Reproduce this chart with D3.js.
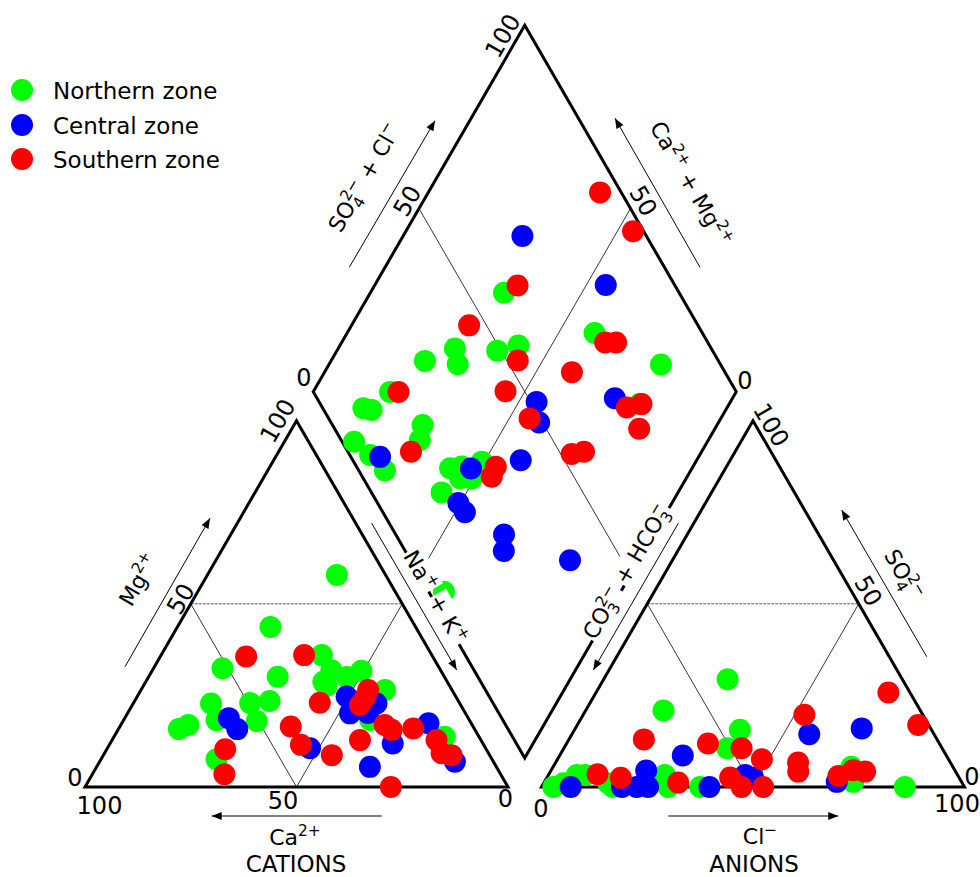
<!DOCTYPE html>
<html>
<head>
<meta charset="utf-8">
<script src="https://cdn.jsdelivr.net/npm/d3@7"></script>
<style>
  body { margin: 0; background: #fff; }
  svg { display: block; }
  text { font-family: "DejaVu Sans", Verdana, sans-serif; fill: #000; }
</style>
</head>
<body>
<svg id="chart" width="980" height="877"></svg>
<script>
// Piper diagram of groundwater samples, three zones.
const zoneNames = ["Northern zone", "Central zone", "Southern zone"];
const zoneColors = ["#00ff00", "#0000ff", "#ff0000"];

// Cation percentages (meq %): [Ca, Mg, Na+K]
const northCations = [[11.5,57.9,30.6],[34.3,43.7,22.0],[51.3,32.4,16.3],[39.4,30.1,30.5],[58.8,22.8,18.4],[49.5,22.9,27.6],[44.6,23.5,31.9],[50.4,18.0,31.6],[59.8,18.2,22.0],[69.9,15.8,14.3],[67.1,16.9,16.0],[65.1,7.6,27.3],[26.0,36.0,38.0],[25.8,31.9,42.3],[29.1,27.6,43.3],[23.1,30.0,46.9],[18.8,31.7,49.5],[15.8,26.5,57.7],[23.4,18.3,58.3],[8.1,13.7,78.2],[29.3,28.7,42.0]];
const centralCations = [[56.6,18.8,24.6],[56.1,15.8,28.1],[41.5,10.6,47.9],[25.8,24.7,49.5],[19.7,22.8,57.5],[27.3,20.1,52.6],[23.0,20.2,56.8],[10.1,17.4,72.5],[21.3,11.9,66.8],[29.9,5.5,64.6],[9.1,6.9,84.0]];
const southCations = [[44.1,35.6,20.3],[30.2,36.0,33.8],[33.0,23.0,44.0],[43.1,16.5,40.4],[43.2,11.5,45.3],[61.7,10.3,28.0],[65.3,3.5,31.2],[19.8,26.5,53.7],[23.8,22.4,53.8],[21.5,24.5,54.0],[20.7,16.9,62.4],[19.7,15.6,64.7],[14.4,16.0,69.6],[28.6,12.8,58.6],[37.3,8.7,54.0],[10.5,12.8,76.7],[11.1,9.2,79.7],[9.0,8.7,82.3],[27.7,0.0,72.3]];

// Anion percentages (meq %): [CO3+HCO3, SO4, Cl]
const northAnions = [[41.3,29.4,29.3],[60.7,20.9,18.4],[45.3,15.6,39.1],[50.8,10.6,38.6],[97.2,0,2.8],[94.3,1.0,4.7],[90.0,3.3,6.7],[88.0,3.3,8.7],[83.7,1.0,15.3],[83.1,0,16.9],[69.2,3.3,27.5],[70.0,0,30.0],[62.5,0,37.5],[24.0,5.5,70.5],[25.6,1.4,73.0],[14.1,0,85.9]];
const centralAnions = [[62.3,8.6,29.1],[93.1,0,6.9],[73.0,4.5,22.5],[81.0,0,19.0],[77.5,0,22.5],[74.8,0,25.2],[60.3,0,39.7],[50.2,3.3,46.5],[48.7,2.5,48.8],[29.5,14.4,56.1],[16.3,16.0,67.7],[29.5,1.4,69.1]];
const southAnions = [[69.3,13.0,17.7],[54.7,11.9,33.4],[47.4,10.6,42.0],[85.0,3.5,11.5],[80.0,2.5,17.5],[67.1,1.2,31.7],[54.1,2.6,43.3],[52.7,0,47.3],[47.6,0,52.4],[44.1,7.6,48.3],[28.0,19.7,52.3],[36.0,6.7,57.3],[37.2,4.2,58.6],[5.1,25.8,69.1],[2.5,16.9,80.6],[28.3,3.0,68.7],[24.0,4.6,71.4],[21.4,4.2,74.4]];

// Diamond field: [Ca+Mg, SO4+Cl]
const northDiamond = [[68.4,58.6],[72.4,39.4],[69.6,37.9],[77.8,30.6],[62.1,49.1],[57.8,54.8],[41.5,74.5],[21.5,85.9],[81.8,18.1],[85.9,9.6],[83.7,11.3],[69.6,21.3],[68.2,18.6],[83.5,2.8],[77.9,4.8],[72.3,6.2],[57.2,21.9],[54.7,24.9],[50.6,30.3],[50.7,25.6],[55.9,16.6],[21.1,75.6],[41.8,3.6],[53.5,22.9]];
const centralDiamond = [[71.8,70.7],[45.4,83.7],[45.8,51.4],[42.4,49.2],[27.8,70.4],[75.3,6.9],[52.2,26.8],[41.6,39.7],[50.5,19.1],[47.7,19.4],[35.4,25.6],[33.2,23.3],[16.3,37.7]];
const southDiamond = [[59.4,95.0],[46.3,97.5],[66.2,62.8],[72.2,45.9],[55.9,52.6],[37.7,75.7],[35.1,78.3],[41.5,63.8],[54.6,45.5],[79.8,20.1],[45.2,47.5],[23.7,72.0],[20.7,75.9],[17.9,72.0],[30.4,52.6],[27.8,55.8],[68.7,14.9],[46.6,32.9],[46.2,30.6]];

const cationSets = [northCations, centralCations, southCations];
const anionSets = [northAnions, centralAnions, southAnions];
const diamondSets = [northDiamond, centralDiamond, southDiamond];

// ---- geometry ----
const side = 423;
const height = side * Math.sqrt(3) / 2;
const baseY = 787;
const catX0 = 85;
const gap = 33.5;
const anX0 = catX0 + side + gap;
const B = [catX0 + side + gap / 2, baseY - gap * Math.sqrt(3) / 2];

const along = d3.scaleLinear().domain([0, 100]).range([0, side]);
const up = d3.scaleLinear().domain([0, 100]).range([0, height]);

function norm(v) { const s = d3.sum(v); return v.map(d => d / s * 100); }
function cationXY(v) { const [ca, mg, nak] = norm(v); return [catX0 + along(nak + mg / 2), baseY - up(mg)]; }
function anionXY(v) { const [hco3, so4, cl] = norm(v); return [anX0 + along(cl + so4 / 2), baseY - up(so4)]; }
function diamondXY(v) { const [camg, so4cl] = v; return [B[0] + (along(so4cl) - along(camg)) / 2, B[1] - up(camg + so4cl)]; }

const svg = d3.select("#chart");
svg.append("rect").attr("width", 980).attr("height", 877).attr("fill", "#fff");
const frame = svg.append("g");
const pts = svg.append("g");
const labels = svg.append("g");

const cL = [catX0, baseY], cR = [catX0 + side, baseY], cT = [catX0 + side / 2, baseY - height];
const aL = [anX0, baseY], aR = [anX0 + side, baseY], aT = [anX0 + side / 2, baseY - height];
const dB = B, dL = [B[0] - side / 2, B[1] - height], dR = [B[0] + side / 2, B[1] - height], dT = [B[0], B[1] - 2 * height];
const mid = (p, q) => [(p[0] + q[0]) / 2, (p[1] + q[1]) / 2];

function seg(p, q, w, dash, color) {
  frame.append("line").attr("x1", p[0]).attr("y1", p[1]).attr("x2", q[0]).attr("y2", q[1])
    .attr("stroke", color || "#000").attr("stroke-width", w).attr("stroke-dasharray", dash || null);
}

// inner guide lines
[[cL, cR, cT], [aL, aR, aT]].forEach(([l, r, t]) => {
  const ml = mid(l, t), mr = mid(r, t), mb = mid(l, r);
  seg(ml, mr, 1, "3,1", "#555");
  seg(ml, mb, 0.8);
  seg(mb, mr, 0.8);
});
seg(mid(dL, dT), mid(dB, dR), 0.8);
seg(mid(dR, dT), mid(dB, dL), 0.8);

// outlines
const poly = d3.line();
[[cL, cR, cT], [aL, aR, aT], [dB, dL, dT, dR]].forEach(v => {
  frame.append("path").attr("d", poly(v) + "Z").attr("fill", "none")
    .attr("stroke", "#000").attr("stroke-width", 3).attr("stroke-linejoin", "miter");
});

// samples
const r = 11;
zoneNames.forEach((z, i) => {
  const g = pts.append("g").attr("fill", zoneColors[i]);
  const all = cationSets[i].map(cationXY)
    .concat(anionSets[i].map(anionXY))
    .concat(diamondSets[i].map(diamondXY));
  g.selectAll("circle").data(all).join("circle")
    .attr("cx", d => d[0]).attr("cy", d => d[1]).attr("r", r);
});

// ---- text helpers ----
function rich(parent, parts, size) {
  const t = parent.append("text").attr("font-size", size);
  let shift = 0, prev = "n", subW = 0;
  parts.forEach(p => {
    let kind = "n", s = p;
    if (Array.isArray(p)) { kind = p[0]; s = p[1]; }
    const target = kind === "sup" ? -0.42 * size : kind === "sub" ? 0.24 * size : 0;
    const ts = t.append("tspan").text(s).attr("dy", target - shift);
    shift = target;
    if (kind !== "n") ts.attr("font-size", size * 0.7);
    if (kind === "sup" && prev === "sub") ts.attr("dx", -subW);
    if (kind === "sub") subW = ts.node().getComputedTextLength();
    prev = kind;
  });
  return t;
}

function label(x, y, angle, parts, size) {
  const g = labels.append("g").attr("transform", `translate(${x},${y}) rotate(${angle})`);
  const t = rich(g, parts, size);
  const bb = t.node().getBBox();
  t.attr("transform", `translate(${-bb.x - bb.width / 2},${-bb.y - bb.height / 2})`);
  return g;
}

// two-piece label with white boxes, split at (x, y)
function splitLabel(x, y, angle, partsA, partsB, size, space) {
  const g = labels.append("g").attr("transform", `translate(${x},${y}) rotate(${angle})`);
  [[partsA, -1], [partsB, 1]].forEach(([parts, dir]) => {
    const t = rich(g, parts, size);
    const bb = t.node().getBBox();
    const tx = dir < 0 ? -space / 2 - (bb.x + bb.width) : space / 2 - bb.x;
    const ty = -bb.y - bb.height / 2;
    t.attr("transform", `translate(${tx},${ty})`);
    g.insert("rect", () => t.node())
      .attr("x", bb.x + tx - 1).attr("y", bb.y + ty + 2)
      .attr("width", bb.width + 2).attr("height", bb.height - 4)
      .attr("fill", "#fff");
  });
}

function arrow(p, q) {
  labels.append("line").attr("x1", p[0]).attr("y1", p[1]).attr("x2", q[0]).attr("y2", q[1])
    .attr("stroke", "#000").attr("stroke-width", 1);
  const a = Math.atan2(q[1] - p[1], q[0] - p[0]);
  const len = 10, hw = 4;
  const bx = q[0] - len * Math.cos(a), by = q[1] - len * Math.sin(a);
  const pts3 = [q, [bx + hw * Math.sin(a), by - hw * Math.cos(a)], [bx - hw * Math.sin(a), by + hw * Math.cos(a)]];
  labels.append("path").attr("d", d3.line()(pts3) + "Z").attr("fill", "#000");
}

// tick labels
const tickSize = 24;
const tickLabels = [
  ["100", 278, 421, -60], ["50", 181, 599, -60], ["0", 75, 777.5, 0],
  ["100", 99.5, 806, 0], ["50", 283, 801, 0], ["0", 505.5, 799, 0],
  ["100", 771, 425, 60], ["50", 868, 591, 60], ["0", 972, 777, 0],
  ["100", 957, 804, 0], ["0", 541, 809, 0],
  ["100", 503, 36, -60], ["50", 407.5, 201, -60], ["0", 304, 378, 0],
  ["0", 745, 381, 0], ["50", 643, 201, 60]
];
tickLabels.forEach(([s, x, y, a]) => label(x, y, a, [s], tickSize));

// axis titles
const ts = 22;
label(137.5, 579, -60, ["Mg", ["sup", "2+"]], ts);
label(295, 836, 0, ["Ca", ["sup", "2+"]], ts);
labels.append("text").attr("x", 296).attr("y", 871.5).attr("text-anchor", "middle")
  .attr("font-size", 23).text("CATIONS");
label(760, 835, 0, ["Cl", ["sup", "\u2212"]], ts);
labels.append("text").attr("x", 754).attr("y", 871.5).attr("text-anchor", "middle")
  .attr("font-size", 23).text("ANIONS");
label(903, 575, 60, ["SO", ["sub", "4"], ["sup", "2\u2212"]], ts);
label(365, 178, -60, ["SO", ["sub", "4"], ["sup", "2\u2212"], "  + Cl", ["sup", "\u2212"]], ts);
label(692, 183, 60, ["Ca", ["sup", "2+"], "  + Mg", ["sup", "2+"]], ts);
splitLabel(434, 592, 60, ["Na", ["sup", "+"]], ["+ K", ["sup", "+"]], ts, 8);
splitLabel(619, 586, -60, ["CO", ["sub", "3"], ["sup", "2\u2212"]], ["+ HCO", ["sub", "3"], ["sup", "\u2212"]], ts, 8);

// arrows beside axes
arrow([125, 666.7], [210, 518.3]);
arrow([381.7, 816], [211.7, 816]);
arrow([371.7, 523.3], [456.7, 670]);
arrow([668.3, 816], [838.3, 816]);
arrow([926.7, 656.7], [841.7, 510]);
arrow([678.3, 523.3], [593.3, 670]);
arrow([349.3, 267.3], [435, 120.7]);
arrow([700, 267.3], [615, 118.3]);

// legend
const legend = svg.append("g");
zoneNames.forEach((z, i) => {
  const y = [90, 125, 159][i];
  legend.append("circle").attr("cx", 22).attr("cy", y).attr("r", r).attr("fill", zoneColors[i]);
  legend.append("text").attr("x", 53).attr("y", y + 8.5).attr("font-size", 23).text(z);
});
</script>
</body>
</html>
